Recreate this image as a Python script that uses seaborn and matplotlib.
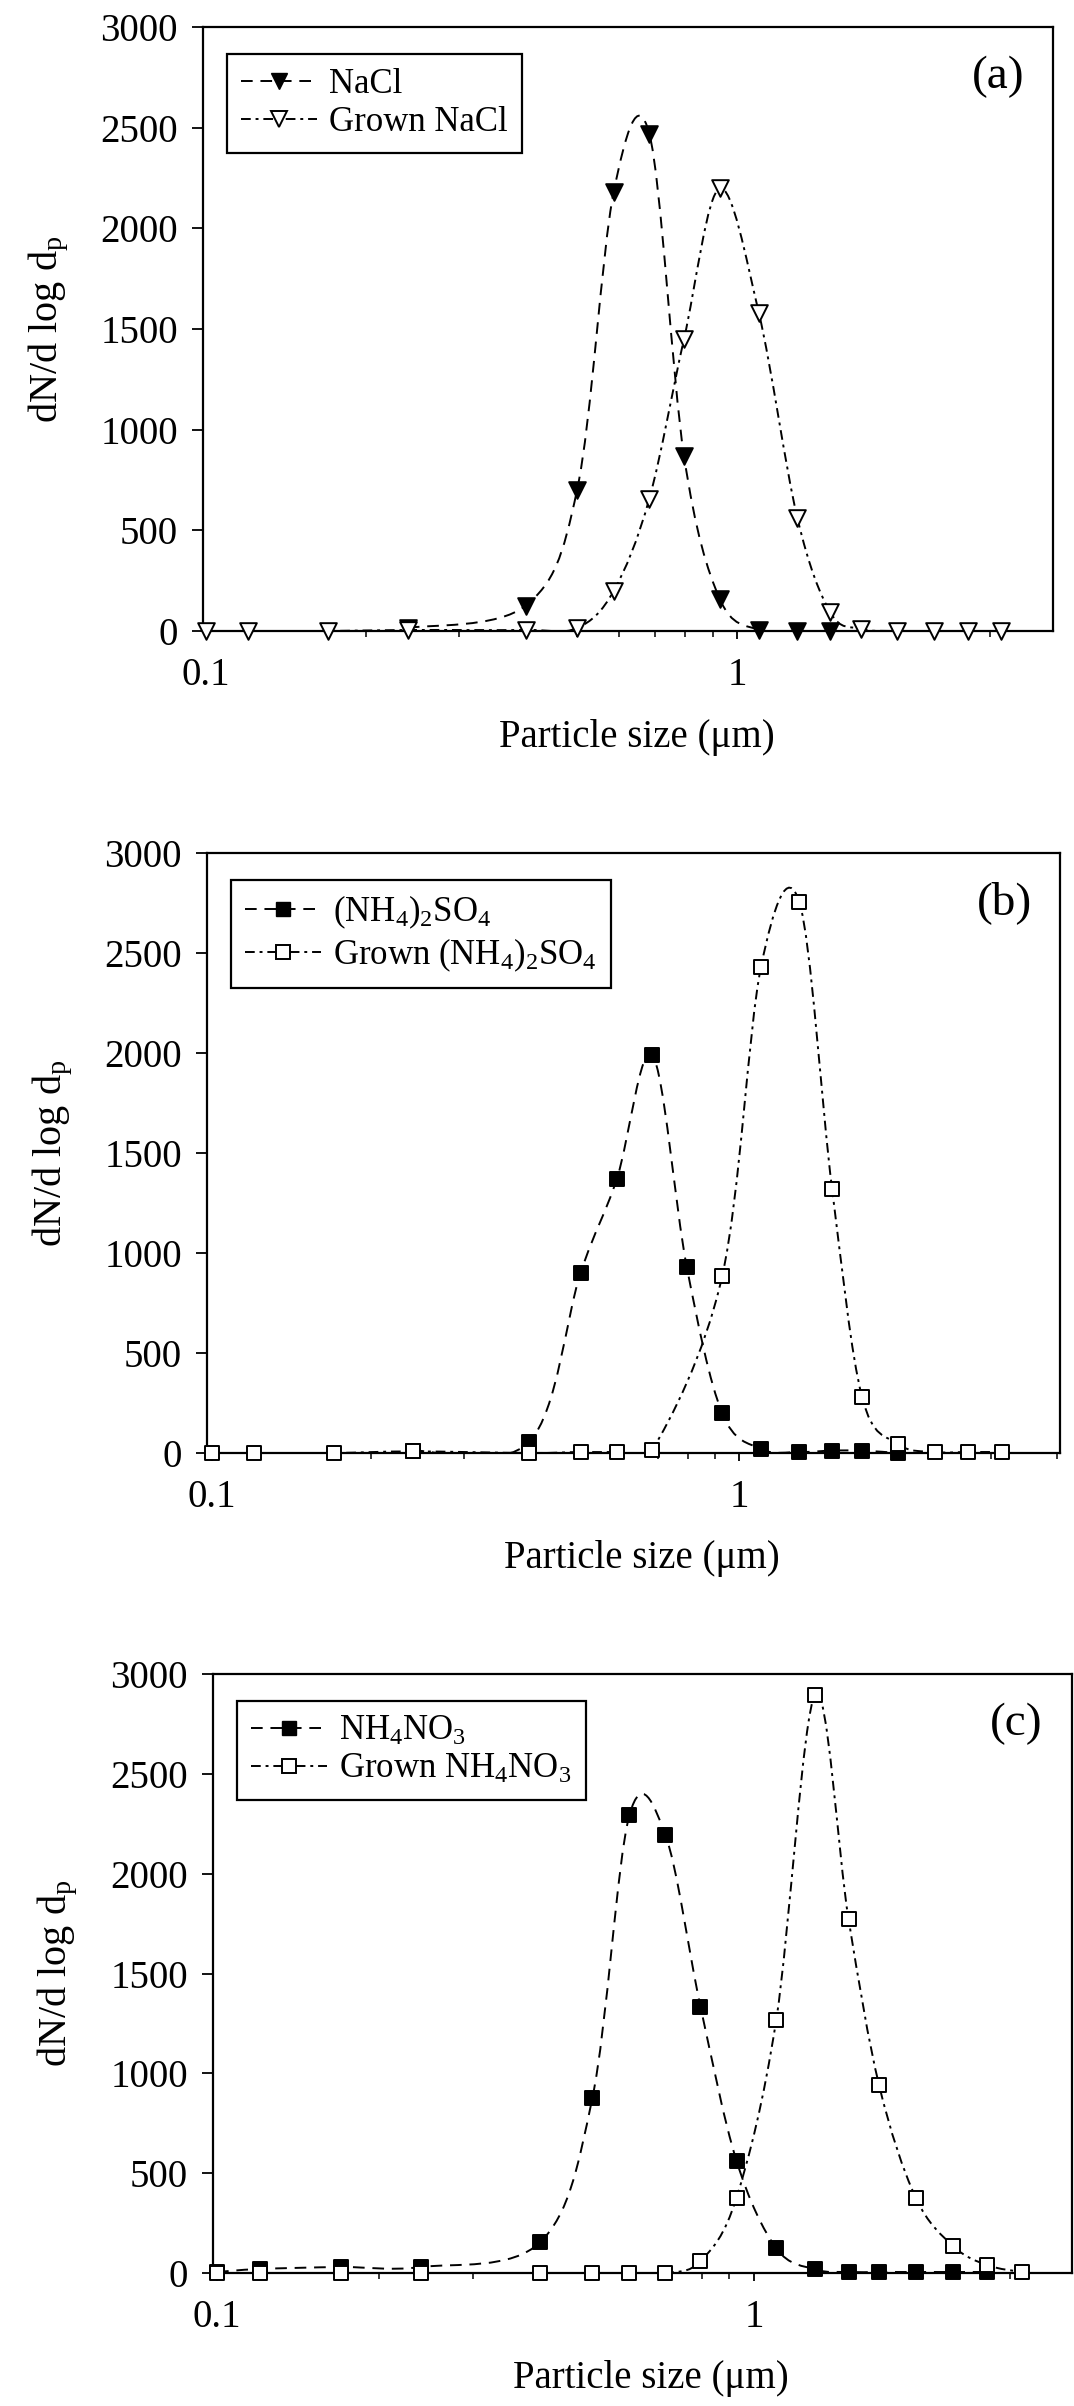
import numpy as np
import matplotlib
matplotlib.use("Agg")
import matplotlib.pyplot as plt
from matplotlib.path import Path
from matplotlib.patches import PathPatch
from matplotlib.lines import Line2D
from matplotlib.ticker import FixedLocator, FixedFormatter, LogLocator, NullFormatter
import seaborn as sns

# (a) NaCl
nacl_size = [0.24, 0.40, 0.50, 0.586, 0.684, 0.795, 0.928, 1.10, 1.30, 1.50]
nacl_conc = [15, 126, 700, 2180, 2470, 870, 160, 5, 0, 0]
grown_nacl_size = [0.10, 0.12, 0.17, 0.24, 0.40, 0.50, 0.586, 0.684, 0.795,
                   0.928, 1.10, 1.30, 1.50, 1.71, 2.00, 2.35, 2.72, 3.15]
grown_nacl_conc = [0, 0, 0, 5, 5, 15, 199, 657, 1450, 2198, 1580, 561, 92, 11, 0, 0, 0, 0]

# (b) (NH4)2SO4
as_size = [0.24, 0.40, 0.50, 0.586, 0.684, 0.795, 0.928, 1.10, 1.30, 1.50, 1.71, 2.00]
as_conc = [12, 57, 900, 1371, 1990, 932, 200, 20, 5, 12, 12, 0]
grown_as_size = [0.10, 0.12, 0.17, 0.24, 0.40, 0.50, 0.586, 0.684,
                 0.928, 1.10, 1.30, 1.50, 1.71, 2.00, 2.35, 2.72, 3.15]
grown_as_conc = [0, 0, 0, 8, 0, 5, 5, 15, 883, 2432, 2755, 1322, 280, 45, 5, 5, 5]

# (c) NH4NO3
an_size = [0.10, 0.12, 0.17, 0.24, 0.40, 0.50, 0.586, 0.684, 0.795,
           0.928, 1.10, 1.30, 1.50, 1.71, 2.00, 2.35, 2.72]
an_conc = [5, 20, 30, 30, 155, 876, 2292, 2194, 1334, 561, 124, 18, 5, 5, 5, 5, 5]
grown_an_size = [0.10, 0.12, 0.17, 0.24, 0.40, 0.50, 0.586, 0.684, 0.795,
                 0.928, 1.10, 1.30, 1.50, 1.71, 2.00, 2.35, 2.72, 3.15]
grown_an_conc = [0, 0, 0, 0, 0, 0, 0, 0, 59, 378, 1267, 2897, 1772, 940, 378, 134, 39, 5]

y_ticks = [0, 500, 1000, 1500, 2000, 2500, 3000]
x_ticks = [0.1, 1]
x_tick_labels = ["0.1", "1"]

panels = [
    dict(tag="(a)", marker="v", ms=12,
         pure=(nacl_size, nacl_conc, "NaCl"),
         grown=(grown_nacl_size, grown_nacl_conc, "Grown NaCl"),
         rect=[203, 27, 1053, 631], xlim=(0.0987, 3.94)),
    dict(tag="(b)", marker="s", ms=10,
         pure=(as_size, as_conc, r"(NH$_4$)$_2$SO$_4$"),
         grown=(grown_as_size, grown_as_conc, r"Grown (NH$_4$)$_2$SO$_4$"),
         rect=[207, 853, 1060, 1453], xlim=(0.0978, 4.06)),
    dict(tag="(c)", marker="s", ms=10,
         pure=(an_size, an_conc, r"NH$_4$NO$_3$"),
         grown=(grown_an_size, grown_an_conc, r"Grown NH$_4$NO$_3$"),
         rect=[213, 1674, 1072, 2273], xlim=(0.0983, 3.91)),
]

sns.set_style("ticks")
plt.rcParams["font.family"] = ["Liberation Serif", "DejaVu Serif"]
plt.rcParams["mathtext.fontset"] = "custom"
plt.rcParams["mathtext.rm"] = "Liberation Serif"
plt.rcParams["mathtext.it"] = "Liberation Serif:italic"
plt.rcParams["mathtext.default"] = "rm"
for k in ["text.color", "axes.labelcolor", "xtick.color", "ytick.color", "axes.edgecolor"]:
    plt.rcParams[k] = "black"

DASH = (0, (6, 4))
DASHDOT = (0, (5, 2.5, 1.5, 2.5))
LW = 1.4


def smooth_path(xs, ys):
    # Excel-style smoothed line: Bezier segments in (log x, y) space
    u = np.log10(np.asarray(xs, float))
    y = np.asarray(ys, float)
    n = len(u)
    verts = [(u[0], y[0])]
    codes = [Path.MOVETO]
    for i in range(n - 1):
        i0, i3 = max(i - 1, 0), min(i + 2, n - 1)
        verts.append((u[i] + (u[i + 1] - u[i0]) / 6, y[i] + (y[i + 1] - y[i0]) / 6))
        verts.append((u[i + 1] - (u[i3] - u[i]) / 6, y[i + 1] - (y[i3] - y[i]) / 6))
        verts.append((u[i + 1], y[i + 1]))
        codes += [Path.CURVE4] * 3
    verts = np.array(verts)
    verts[:, 0] = 10 ** verts[:, 0]
    return Path(verts, codes)


W, H = 1074, 2406
fig = plt.figure(figsize=(W / 100, H / 100), dpi=100)

for p in panels:
    l, t, r, b = p["rect"]
    ax = fig.add_axes([l / W, 1 - b / H, (r - l) / W, (b - t) / H])
    ax.set_xscale("log")

    for (xs, ys, _), ls in [(p["pure"], DASH), (p["grown"], DASHDOT)]:
        ax.add_patch(PathPatch(smooth_path(xs, ys), fill=False, edgecolor="black",
                               lw=LW, linestyle=ls, zorder=2))
    for (xs, ys, _), face in [(p["pure"], "black"), (p["grown"], "white")]:
        sns.scatterplot(x=xs, y=ys, marker=p["marker"], s=p["ms"] ** 2, color=face,
                        edgecolor="black", linewidth=1.4, ax=ax, zorder=4,
                        clip_on=False, legend=False)

    ax.set_xlim(*p["xlim"])
    ax.set_ylim(0, 3000)
    ax.set_yticks(y_ticks)
    ax.xaxis.set_major_locator(FixedLocator(x_ticks))
    ax.xaxis.set_major_formatter(FixedFormatter(x_tick_labels))
    ax.xaxis.set_minor_locator(LogLocator(base=10, subs=np.arange(2, 10)))
    ax.xaxis.set_minor_formatter(NullFormatter())
    ax.tick_params(axis="y", which="major", direction="out", length=8, width=1.3,
                   labelsize=28, pad=10)
    ax.tick_params(axis="x", which="major", direction="out", length=6, width=1.3,
                   labelsize=28, pad=13)
    ax.tick_params(axis="x", which="minor", direction="out", length=4, width=1.1)
    for s in ax.spines.values():
        s.set_linewidth(1.6)
        s.set_visible(True)

    ax.set_ylabel(r"dN/d log d$_\mathrm{p}$", fontsize=29)
    ax.yaxis.set_label_coords(-0.155, 0.5)
    ax.set_xlabel("Particle size (\u03bcm)", fontsize=28)
    ax.xaxis.set_label_coords(0.51, -0.145)

    ax.text(0.935, 0.917, p["tag"], transform=ax.transAxes, fontsize=34,
            ha="center", va="center")

    handles = [
        Line2D([0], [0], color="black", lw=LW, ls=DASH, marker=p["marker"],
               ms=p["ms"], mfc="black", mec="black"),
        Line2D([0], [0], color="black", lw=LW, ls=DASHDOT, marker=p["marker"],
               ms=p["ms"], mfc="white", mec="black", mew=1.4),
    ]
    leg = ax.legend(handles, [p["pure"][2], p["grown"][2]], loc="upper left",
                    bbox_to_anchor=(0.028, 0.955), borderaxespad=0, fontsize=25,
                    frameon=True, fancybox=False, edgecolor="black",
                    handlelength=2.2, handletextpad=0.35, labelspacing=0.15,
                    borderpad=0.4)
    leg.get_frame().set_linewidth(1.6)
    leg.get_frame().set_alpha(1)

fig.savefig("out.png", dpi=100)
